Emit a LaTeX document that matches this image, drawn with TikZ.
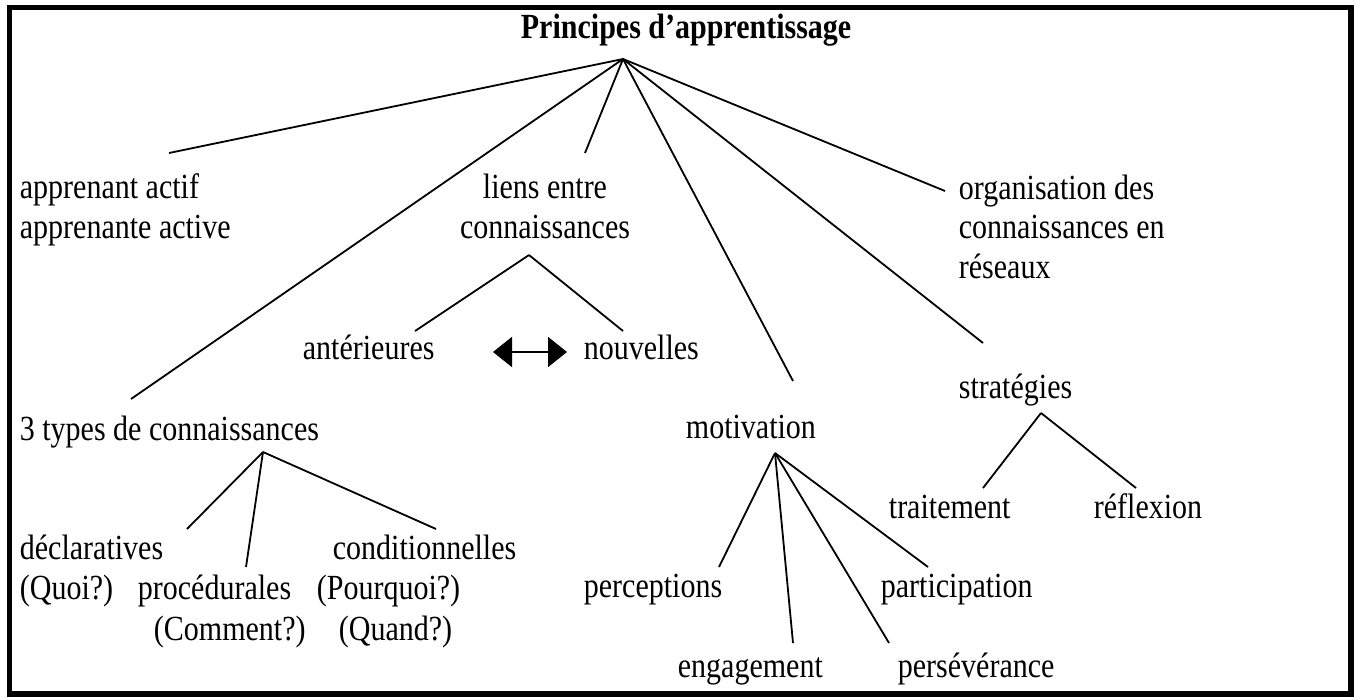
\documentclass[tikz,border=0pt]{standalone}
\usepackage{fontspec}
\setmainfont{Liberation Serif}[FakeStretch=0.85]
\usetikzlibrary{arrows.meta}
\begin{document}
\begin{tikzpicture}[x=1pt, y=-1pt, line width=1.8pt,
	every node/.style={inner sep=0pt, anchor=base west, font=\fontsize{35.3}{39.5}\selectfont}]
			\useasboundingbox (0,0) rectangle (1356,698);
			\draw[line width=5.5pt] (9.5,7.5) rectangle (1351,694);
			
			% textes (ancre base = ligne de base de la derniere ligne)
			\node[font=\fontsize{35.3}{39.5}\selectfont\bfseries] (principes) at (520,39) {Principes d’apprentissage};
			\node[align=left] (actif) at (19,238) {apprenant actif\\apprenante active};
			\node[align=center, anchor=base] (liens) at (545,238) {liens entre\\connaissances};
			\node[align=left] (organisation) at (958,278) {organisation des\\connaissances en\\réseaux};
			\node (anterieures) at (302,359) {antérieures};
			\node (nouvelles) at (583,359) {nouvelles};
			\node (types) at (19,440) {3 types de connaissances};
			\node (motivation) at (685,438) {motivation};
			\node (strategies) at (958,398) {stratégies};
			\node[align=left] (declaratives) at (19,599) {déclaratives\\(Quoi?)};
			\node (procedurales) at (137,599) {procédurales};
			\node (comment) at (153,640) {(Comment?)};
			\node (conditionnelles) at (332,559) {conditionnelles};
			\node (pourquoi) at (316,599) {(Pourquoi?)};
			\node (quand) at (338,640) {(Quand?)};
			\node (perceptions) at (583,597) {perceptions};
			\node (participation) at (880,597) {participation};
			\node (engagement) at (677,677) {engagement};
			\node (perseverance) at (897,677) {persévérance};
			\node (traitement) at (888,518) {traitement};
			\node (reflexion) at (1093,518) {réflexion};
			
			% points de depart et d'arrivee des traits
			\coordinate (hub) at (623,59);
			\coordinate (actifend) at (169,153);
			\coordinate (typesend) at (131,399);
			\coordinate (liensend) at (585,153);
			\coordinate (motivend) at (793,381);
			\coordinate (stratend) at (983,343);
			\coordinate (orgaend) at (945,191);
			\coordinate (lienshub) at (529,255);
			\coordinate (anteend) at (415,331);
			\coordinate (nouvend) at (623,331);
			\coordinate (typeshub) at (263,452);
			\coordinate (declend) at (187,529);
			\coordinate (procend) at (246,567);
			\coordinate (condend) at (436,529);
			\coordinate (motivhub) at (775,453);
			\coordinate (percend) at (719,567);
			\coordinate (engend) at (793,643);
			\coordinate (persend) at (889,643);
			\coordinate (partend) at (928,567);
			\coordinate (strathub) at (1041,413);
			\coordinate (traitend) at (983,488);
			\coordinate (reflend) at (1136,488);
			\coordinate (flecheG) at (493,352);
			\coordinate (flecheD) at (567,352);
			
			\foreach \from/\to in {hub/actifend,hub/typesend,hub/liensend,hub/motivend,hub/stratend,hub/orgaend,lienshub/anteend,lienshub/nouvend,typeshub/declend,typeshub/procend,typeshub/condend,motivhub/percend,motivhub/engend,motivhub/persend,motivhub/partend,strathub/traitend,strathub/reflend}
			\draw[] (\from) -- (\to);
			
			\draw[{Triangle[length=19pt,width=30pt]}-{Triangle[length=19pt,width=30pt]}, line width=1.5pt] (flecheG) -- (flecheD);
			\end{tikzpicture}
\end{document}
